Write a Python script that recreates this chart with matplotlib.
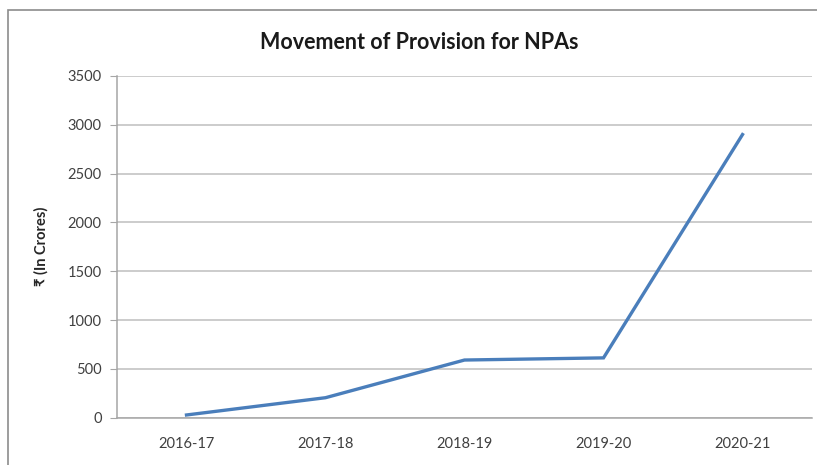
import matplotlib.pyplot as plt
from matplotlib.patches import Rectangle

# provision for NPAs by financial year
years = ['2016-17', '2017-18', '2018-19', '2019-20', '2020-21']
provision = [27, 204, 590, 612, 2900]
y_ticks = [0, 500, 1000, 1500, 2000, 2500, 3000, 3500]

plt.rcParams['font.family'] = ['Lato', 'DejaVu Sans']

fig = plt.figure(figsize=(8.17, 4.65), dpi=100)
ax = fig.add_axes([0.1432, 0.1019, 0.8507, 0.7347])

# chart frame (runs off the right and bottom edges)
fig.patches.append(Rectangle((8 / 817, -0.05), 1.1, 1 - 10 / 465 + 0.05,
                             transform=fig.transFigure, fill=False,
                             edgecolor='#8c8c8c', linewidth=1.2))

x = list(range(len(years)))
ax.plot(x, provision, color='#4a7ebb', linewidth=2.4, solid_joinstyle='miter')

ax.set_xlim(-0.5, len(years) - 0.5)
ax.set_ylim(0, 3500)
ax.set_yticks(y_ticks)
ax.set_xticks(x)
ax.set_xticklabels(years)
ax.yaxis.grid(True, color='#bfbfbf', linewidth=1.1)
ax.set_axisbelow(True)

for side in ['top', 'right']:
    ax.spines[side].set_visible(False)
for side in ['left', 'bottom']:
    ax.spines[side].set_color('#a6a6a6')
    ax.spines[side].set_linewidth(1.1)

ax.tick_params(axis='y', length=5, color='#a6a6a6', labelsize=10.5,
               labelcolor='#404040', pad=6)
ax.tick_params(axis='x', length=0, labelsize=10.5, labelcolor='#404040', pad=14)

ax.set_ylabel('₹ (In Crores)', fontsize=10.5, fontweight='bold', color='#262626',
              labelpad=14)
fig.text(0.513, 0.908, 'Movement of Provision for NPAs', ha='center', va='center',
         fontsize=15.5, fontweight='bold', color='#1a1a1a')

fig.savefig('out.png', dpi=100)
